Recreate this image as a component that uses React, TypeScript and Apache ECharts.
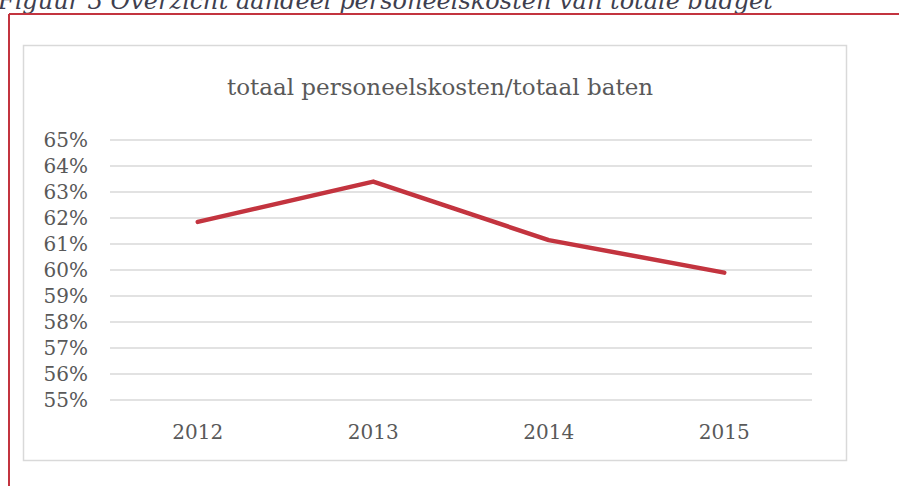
import React, { useEffect, useRef } from "react";
import * as echarts from "echarts";

const categories = ["2012", "2013", "2014", "2015"];
const values = [61.85, 63.4, 61.15, 59.9];
const yMin = 55;
const yMax = 65;
const yStep = 1;
const chartTitle = "totaal personeelskosten/totaal baten";
const caption = "Figuur 3 Overzicht aandeel personeelskosten van totale budget";

export default function App() {
  const ref = useRef<HTMLDivElement>(null);
  useEffect(() => {
    if (!ref.current) return;
    const chart = echarts.init(ref.current, undefined, { renderer: "svg" });
    const serif = "DejaVu Serif";
    chart.setOption({
      animation: false,
      backgroundColor: "#ffffff",
      title: {
        text: chartTitle,
        left: 435,
        top: 70,
        textAlign: "center",
        textStyle: { fontFamily: serif, fontSize: 23, fontWeight: "normal", color: "#595959" },
      },
      grid: { left: 110, right: 87, top: 140, bottom: 86 },
      xAxis: {
        type: "category",
        data: categories,
        boundaryGap: true,
        axisLine: { show: false },
        axisTick: { show: false },
        axisLabel: { fontFamily: serif, fontSize: 20, color: "#595959", margin: 22 },
      },
      yAxis: {
        type: "value",
        min: yMin,
        max: yMax,
        interval: yStep,
        axisLine: { show: false },
        axisTick: { show: false },
        splitLine: { lineStyle: { color: "#d9d9d9", width: 1.5 } },
        axisLabel: {
          fontFamily: serif,
          fontSize: 20,
          color: "#595959",
          margin: 22,
          formatter: (v: number) => `${v}%`,
        },
      },
      series: [
        {
          type: "line",
          data: values,
          symbol: "none",
          lineStyle: { color: "#c3343f", width: 4.5, cap: "round", join: "round" },
        },
      ],
      graphic: [
        {
          type: "text",
          x: -2,
          y: 1,
          style: {
            text: caption,
            fontFamily: serif,
            fontStyle: "italic",
            fontSize: 24,
            fill: "#3f3f4f",
            verticalAlign: "middle",
          },
        },
        {
          type: "line",
          shape: { x1: 9, y1: 14, x2: 899, y2: 14 },
          style: { stroke: "#c3343f", lineWidth: 2 },
        },
        {
          type: "line",
          shape: { x1: 9, y1: 14, x2: 9, y2: 486 },
          style: { stroke: "#c3343f", lineWidth: 2 },
        },
        {
          type: "rect",
          shape: { x: 23.5, y: 45.5, width: 823, height: 415 },
          style: { fill: "none", stroke: "#d9d9d9", lineWidth: 1.5 },
        },
      ],
    });
    return () => chart.dispose();
  }, []);
  return (
    <div
      ref={ref}
      style={{ position: "fixed", left: 0, top: 0, width: 899, height: 486 }}
    />
  );
}
